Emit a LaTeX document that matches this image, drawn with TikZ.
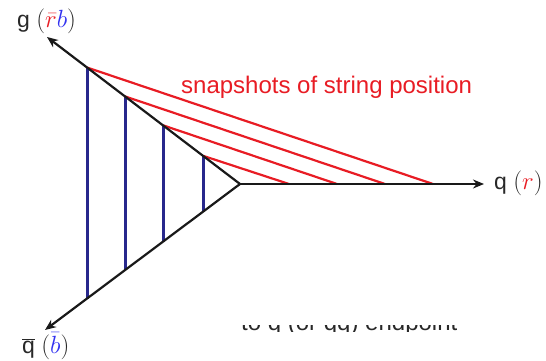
\documentclass[tikz,border=0pt]{standalone}
\usepackage{fontspec}
\setmainfont{Liberation Sans}
\usetikzlibrary{arrows.meta}
\definecolor{strred}{RGB}{232,28,36}
\definecolor{strblue}{RGB}{40,40,140}
\definecolor{lblue}{RGB}{50,50,240}
\definecolor{lgray}{RGB}{40,40,40}
\tikzset{
  axis/.style={draw=black!90, line width=2.2pt, -{Stealth[length=11pt,width=9pt]}},
  edge/.style={draw=black!90, line width=2.2pt},
  snap/.style={draw=strred, line width=2.2pt},
  bluebar/.style={draw=strblue, line width=3pt},
  lbl/.style={font=\fontsize{23}{26}\selectfont, text=lgray, inner sep=0pt},
}
\begin{document}
\begin{tikzpicture}[x=1pt,y=-1pt]
\useasboundingbox (0,0) rectangle (546,361);
% key points
\coordinate (O) at (240,184);
\coordinate (G) at (47,37);
\coordinate (Q) at (484,184);
\coordinate (QB) at (45,330);
\coordinate (A1) at (87,67.5);
\coordinate (A2) at (125,96.4);
\coordinate (A3) at (163,125.3);
\coordinate (A4) at (203,155.8);
\coordinate (L1) at (87,298.6);
\coordinate (L2) at (125,270.1);
\coordinate (L3) at (163,241.7);
\coordinate (L4) at (203,211.7);
\coordinate (B1) at (433,184);
\coordinate (B2) at (385,184);
\coordinate (B3) at (337,184);
\coordinate (B4) at (289,184);
% blue bars
\draw[bluebar] (A1) -- (L1);
\draw[bluebar] (A2) -- (L2);
\draw[bluebar] (A3) -- (L3);
\draw[bluebar] (A4) -- (L4);
% red snapshots
\draw[snap] (A1) -- (B1);
\draw[snap] (A2) -- (B2);
\draw[snap] (A3) -- (B3);
\draw[snap] (A4) -- (B4);
% axes
\draw[axis] (O) -- (G);
\draw[axis] (O) -- (QB);
\draw[axis] (O) -- (Q);
% labels
\node[lbl, anchor=west] (gl) at (17,21) {g \((\textcolor{strred}{\bar r}\textcolor{lblue}{b})\)};
\node[lbl, anchor=west] (ql) at (494,183) {q \((\textcolor{strred}{r})\)};
\node[lbl, anchor=west] (qbl) at (22,346) {\(\overline{\mbox{q}}\) \((\textcolor{lblue}{\bar b})\)};
\node[lbl, text=strred, anchor=base west, font=\fontsize{24}{28}\selectfont] (snapl) at (181,93) {snapshots of string position};
\begin{scope}
\clip (230,325.5) rectangle (480,331.5);
\node[lbl, anchor=base west, font=\fontsize{24}{28}\selectfont] (endl) at (241,330) {to q (or \(\overline{\mbox{q}}\)q) endpoint};
\end{scope}
\end{tikzpicture}
\end{document}
